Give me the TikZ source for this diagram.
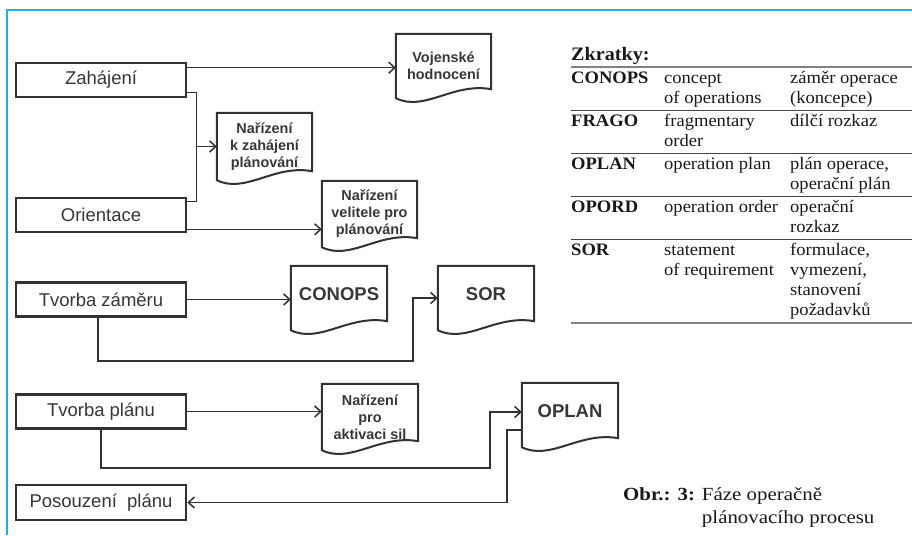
\documentclass[tikz,border=0pt]{standalone}
\usepackage{fontspec}
\usepackage{array}
\usepackage{booktabs}
\usepackage{colortbl}
\usetikzlibrary{arrows.meta,calc}
\setmainfont{Liberation Serif}
\newfontfamily\arialfont{Liberation Sans}
\newfontfamily\tabfont{Liberation Serif}[FakeStretch=1.06]
\newfontfamily\capfont{Liberation Serif}[FakeStretch=1.13]
\definecolor{linegray}{RGB}{50,50,50}
\definecolor{txtgray}{RGB}{55,55,55}
\definecolor{tabtext}{RGB}{25,25,25}
\definecolor{rulegray}{RGB}{130,130,130}
\definecolor{midgray}{RGB}{70,70,70}
\definecolor{framecyan}{RGB}{25,180,235}
\setlength{\aboverulesep}{1pt}
\setlength{\belowrulesep}{1pt}

\begin{document}
\begin{tikzpicture}[x=1pt,y=-1pt,
  procbox/.style={draw=linegray,line width=2.6pt,minimum width=170pt,minimum height=34pt,inner sep=0pt,
    font=\arialfont\fontsize{18.5}{20}\selectfont,text=txtgray},
  docbox/.style={minimum width=95pt,minimum height=66pt,inner sep=0pt,align=center,
    font=\arialfont\bfseries\fontsize{14.4}{17}\selectfont,text=txtgray},
  docbig/.style={docbox,minimum height=64pt,text depth=8pt,font=\arialfont\bfseries\fontsize{18.5}{22}\selectfont},
  docline/.style={draw=linegray,line width=2pt},
  conn/.style={draw=linegray,line width=1.5pt},
  arr/.style={conn,-{Straight Barb[length=6pt,width=11pt,line width=1.5pt]}}]
\useasboundingbox (0,0) rectangle (912,535);
\fill[white] (0,0) rectangle (912,535);
\draw[framecyan,line width=1.5pt] (7,535) -- (7,10) -- (912,10);

% phases
\node[procbox] (zah) at (101,80) {Zahájení};
\node[procbox] (ori) at (101,215) {Orientace};
\node[procbox] (tz) at (101,299.5) {Tvorba záměru};
\node[procbox] (tp) at (101,411.5) {Tvorba plánu};
\node[procbox,minimum height=35pt] (pos) at (101,502.5) {Posouzení~~plánu};

% documents
\node[docbox,minimum height=64pt] (voj) at (443.5,66) {Vojenské\\hodnocení};
\node[docbox,minimum height=67pt] (nzah) at (264.5,146.5) {Nařízení\\k zahájení\\plánování};
\node[docbox] (nvel) at (369.5,214) {Nařízení\\velitele pro\\plánování};
\node[docbig,minimum width=96pt] (conops) at (339,298) {CONOPS};
\node[docbig,minimum width=96pt] (sor) at (486,298) {SOR};
\node[docbox,minimum width=96pt] (naktiv) at (370,417) {Nařízení\\pro\\aktivaci sil};
\node[docbig,minimum width=96pt] (oplan) at (570,415) {OPLAN};
\foreach \n in {voj,nzah,nvel,conops,sor,naktiv,oplan}
  \draw[docline] (\n.south west) |- (\n.north east) -- ([yshift=9pt]\n.south east)
    .. controls ($(\n.south west)!0.6!(\n.south east)+(0,-16)$) and ($(\n.south west)!0.3!(\n.south east)+(0,14)$) .. (\n.south west) -- cycle;

% connectors
\coordinate (zahout) at ([yshift=-6pt]zah.north east);
\draw[arr] (zahout) -- (zahout -| voj.west);
\coordinate (zahlow) at ([yshift=6pt]zah.south east);
\coordinate (orihigh) at ([yshift=-5pt]ori.north east);
\coordinate (split) at ($(zahlow)+(9,0)$);
\draw[conn] (zahlow) -- (split) |- (orihigh);
\draw[arr] (split |- nzah.west) -- (nzah.west);
\coordinate (oriout) at ([yshift=4pt]ori.south east);
\draw[arr] (oriout) -- (oriout -| nvel.west);
\draw[arr] (tz.east) -- (tz.east -| conops.west);
\draw[arr] ([xshift=-3pt]tz.south) -- ++(0,43) -| ($(sor.west)+(-25,0)$) -- (sor.west);
\draw[arr] (tp.east) -- (tp.east -| naktiv.west);
\coordinate (opin) at ([yshift=3pt]oplan.west);
\draw[arr] (tp.south) -- ++(0,38) -| ($(opin)+(-32,0)$) -- (opin);
\coordinate (opout) at ([yshift=-15pt]oplan.west);
\draw[arr] (opout) -- ++(-15,0) |- (pos.east);

% abbreviations
\node[anchor=base west,inner sep=0pt,text=tabtext,font=\tabfont\bfseries\fontsize{19}{22}\selectfont] (zkr) at (571,60) {Zkratky:};
\node[anchor=north west,inner sep=0pt,text=tabtext,font=\tabfont\fontsize{17.5}{20}\selectfont] (abbr) at (571,66) {%
\begin{tabular}{@{}>{\bfseries}p{93pt}@{}>{\raggedright\arraybackslash}p{126pt}@{}>{\raggedright\arraybackslash}p{122pt}@{}}
\arrayrulecolor{rulegray}\toprule[2pt]
CONOPS & concept\newline of operations & záměr operace\newline (koncepce)\\
\arrayrulecolor{midgray}\midrule[1pt]
FRAGO & fragmentary\newline order & dílčí rozkaz\\
\midrule[1pt]
OPLAN & operation plan & plán operace,\newline operační plán\\
\midrule[1pt]
OPORD & operation order & operační\newline rozkaz\\
\midrule[1pt]
SOR & statement\newline of requirement & formulace,\newline vymezení,\newline stanovení\newline požadavků\\
\arrayrulecolor{rulegray}\bottomrule[2pt]
\end{tabular}};

% caption
\node[anchor=base west,inner sep=0pt,text=tabtext,font=\capfont\fontsize{18.5}{23}\selectfont] (cap) at (623,500)
  {\textbf{Obr.: 3:} \begin{tabular}[t]{@{}l@{}}Fáze operačně\\plánovacího procesu\end{tabular}};
\end{tikzpicture}
\end{document}
